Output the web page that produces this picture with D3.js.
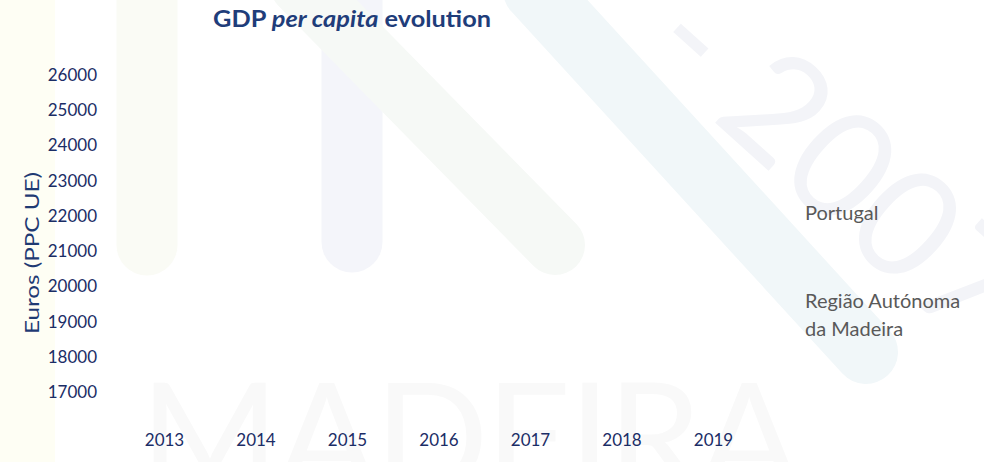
<!DOCTYPE html>
<html>
<head>
<meta charset="utf-8">
<script src="https://cdn.jsdelivr.net/npm/d3@7"></script>
<style>
  body { margin: 0; background: #fff; }
  svg { display: block; font-family: Lato, "Open Sans", sans-serif; }
</style>
</head>
<body>
<div id="chart"></div>
<script>
// chart data
var years = ['2013', '2014', '2015', '2016', '2017', '2018', '2019']
var yTicks = [17000, 18000, 19000, 20000, 21000, 22000, 23000, 24000, 25000, 26000]
var seriesNames = ['Portugal', 'Região Autónoma da Madeira']
// the reference shows no plotted points for either series
var portugalValues = []
var madeiraValues = []

var width = 984
var height = 462

var svg = d3.select('#chart')
  .append('svg')
  .attr('width', width)
  .attr('height', height)

// faint background watermark
var bg = svg.append('g').attr('class', 'watermark')

bg.append('rect')
  .attr('x', 0).attr('y', 0)
  .attr('width', 55).attr('height', height)
  .style('fill', '#fefef4')

var bands = [
  { x1: 147, y1: -40, x2: 147, y2: 245, w: 61, c: '#fafbf5' },
  { x1: 352, y1: -40, x2: 352, y2: 242, w: 61, c: '#f4f5fa' },
  { x1: 300, y1: -15, x2: 555, y2: 245, w: 60, c: '#f6f9f6' },
  { x1: 535, y1: -10, x2: 866, y2: 352, w: 64, c: '#f1f7f9' }
]
bg.selectAll('.band')
  .data(bands)
  .enter()
  .append('line')
  .attr('class', 'band')
  .attr('x1', d => d.x1).attr('y1', d => d.y1)
  .attr('x2', d => d.x2).attr('y2', d => d.y2)
  .style('stroke', d => d.c)
  .style('stroke-width', d => d.w)
  .style('stroke-linecap', 'round')

bg.append('text')
  .attr('transform', 'translate(640,55) rotate(42)')
  .style('font-size', '150px')
  .style('fill', '#f3f4f8')
  .text('- 2007')

bg.append('text')
  .attr('x', 140)
  .attr('y', 490)
  .attr('textLength', 660)
  .attr('lengthAdjust', 'spacing')
  .style('font-size', '150px')
  .style('fill', '#f9f9f9')
  .text('MADEIRA')

// scales
var xScale = d3.scalePoint()
  .domain(years)
  .range([164, 713])

var yScale = d3.scaleLinear()
  .domain([17000, 26000])
  .range([392, 75])

// title
var title = svg.append('text')
  .attr('x', 213)
  .attr('y', 27)
  .attr('textLength', 278)
  .attr('lengthAdjust', 'spacingAndGlyphs')
  .style('font-size', '22px')
  .style('font-weight', 'bold')
  .style('fill', '#1f3d7a')
title.append('tspan').text('GDP ')
title.append('tspan').style('font-style', 'italic').text('per capita')
title.append('tspan').text(' evolution')

// Y axis
var yAxis = d3.axisLeft(yScale)
  .tickValues(yTicks)
  .tickSize(0)
  .tickPadding(0)
  .tickFormat(d => d)

var yG = svg.append('g')
  .attr('transform', 'translate(97,0)')
  .call(yAxis)
yG.select('.domain').remove()
yG.selectAll('text')
  .style('font-family', 'Lato, sans-serif')
  .style('font-size', '17px')
  .style('fill', '#1b2d66')

svg.append('text')
  .attr('transform', 'translate(39,253) rotate(-90)')
  .attr('text-anchor', 'middle')
  .attr('textLength', 162)
  .attr('lengthAdjust', 'spacingAndGlyphs')
  .style('font-size', '20px')
  .style('fill', '#1f3a73')
  .text('Euros (PPC UE)')

// X axis
var xAxis = d3.axisBottom(xScale)
  .tickSize(0)
  .tickPadding(0)

var xG = svg.append('g')
  .attr('transform', 'translate(0,434)')
  .call(xAxis)
xG.select('.domain').remove()
xG.selectAll('text')
  .style('font-family', 'Lato, sans-serif')
  .style('font-size', '17px')
  .style('fill', '#1b2d66')

// series lines (empty in the reference)
var line = d3.line()
  .x((d, i) => xScale(years[i]))
  .y(d => yScale(d))

svg.append('path')
  .datum(portugalValues)
  .attr('d', line)
  .style('fill', 'none')
  .style('stroke', '#1f3d7a')

svg.append('path')
  .datum(madeiraValues)
  .attr('d', line)
  .style('fill', 'none')
  .style('stroke', '#8fb33d')

// legend labels
var legendY = [220, 308]
var legend = svg.append('g').attr('class', 'legend')
seriesNames.forEach((name, i) => {
  var t = legend.append('text')
    .attr('x', 805)
    .attr('y', legendY[i])
    .style('font-size', '20px')
    .style('fill', '#595959')
  var words = name === 'Região Autónoma da Madeira'
    ? ['Região Autónoma', 'da Madeira'] : [name]
  words.forEach((w, j) => {
    t.append('tspan')
      .attr('x', 805)
      .attr('dy', j === 0 ? 0 : 28)
      .text(w)
  })
})
</script>
</body>
</html>
